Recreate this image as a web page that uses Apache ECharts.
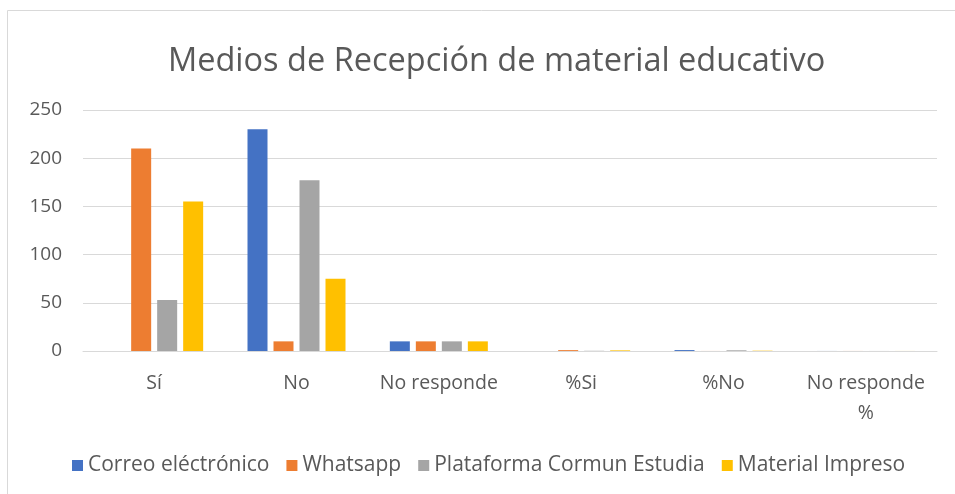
<!DOCTYPE html>
<html><head><meta charset="utf-8">
<script src="https://cdn.jsdelivr.net/npm/echarts@6/dist/echarts.min.js"></script>
<style>html,body{margin:0;padding:0;background:#fff}#c{width:955px;height:494px}</style>
</head><body><div id="c"></div>
<script>
const categories = ['Sí', 'No', 'No responde', '%Si', '%No', 'No responde %'];
const seriesNames = ['Correo eléctrónico', 'Whatsapp', 'Plataforma Cormun Estudia', 'Material Impreso'];
const correo = [0, 230, 10, 0, 0.96, 0.04];
const whatsapp = [210, 10, 10, 0.91, 0.04, 0.04];
const plataforma = [53, 177, 10, 0.22, 0.74, 0.04];
const impreso = [155, 75, 10, 0.65, 0.31, 0.04];
const colors = ['#4472C4', '#ED7D31', '#A5A5A5', '#FFC000'];
const yTicks = {min: 0, max: 250, interval: 50};

const font = 'Open Sans';
const chart = echarts.init(document.getElementById('c'), null, {renderer: 'canvas'});
const data = [correo, whatsapp, plataforma, impreso];
chart.setOption({
  animation: false,
  color: colors,
  textStyle: {fontFamily: font},
  graphic: [{type: 'rect', shape: {x: 7.5, y: 10.5, width: 960, height: 500},
    style: {fill: 'none', stroke: '#d9d9d9', lineWidth: 1}, silent: true}],
  title: {text: 'Medios de Recepción de material educativo', left: 163, top: 40,
    textStyle: {fontFamily: font, fontWeight: 'normal', fontSize: 32.5, color: '#595959'}},
  legend: {bottom: 13, left: 67, itemWidth: 11, itemHeight: 11, itemGap: 17,
    icon: 'rect', textStyle: {fontFamily: font, fontSize: 21, color: '#595959', padding: [0, 0, 0, 0]}},
  grid: {left: 83, right: 18, top: 110, bottom: 143},
  xAxis: {type: 'category', data: categories,
    axisLine: {lineStyle: {color: '#d9d9d9'}}, axisTick: {show: false},
    axisLabel: {fontFamily: font, fontSize: 19.5, color: '#595959', margin: 17, lineHeight: 30,
      interval: 0, formatter: v => v.replace(' %', '\n%')}},
  yAxis: {type: 'value', min: yTicks.min, max: yTicks.max, interval: yTicks.interval,
    axisLine: {show: false}, axisTick: {show: false},
    splitLine: {lineStyle: {color: '#d9d9d9'}},
    axisLabel: {fontFamily: font, fontSize: 19, color: '#595959', margin: 21}},
  series: seriesNames.map((n, i) => ({name: n, type: 'bar', data: data[i],
    barWidth: 20, barGap: '30%'}))
});
</script></body></html>
